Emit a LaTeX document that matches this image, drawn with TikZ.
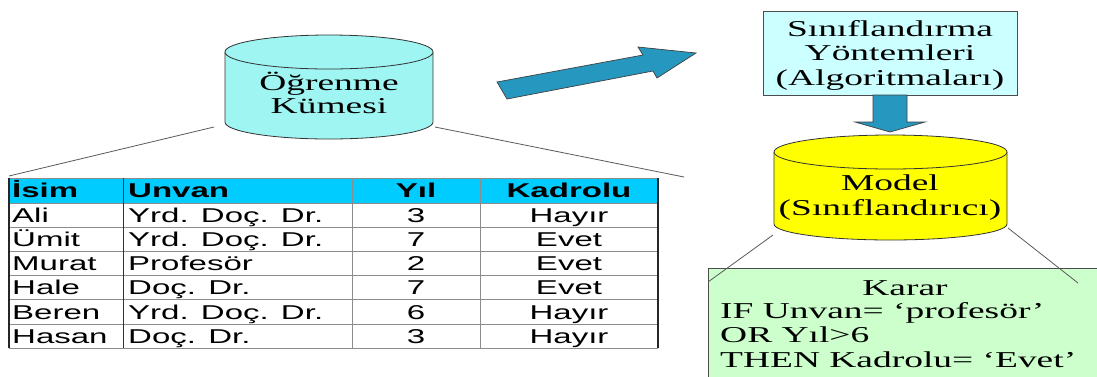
\documentclass[tikz,border=0pt]{standalone}
\usepackage{fontspec}
\newfontfamily\tnr{Liberation Serif}[FakeStretch=1.65]
\newfontfamily\arl{Liberation Sans}[FakeStretch=1.65]
\definecolor{arrowblue}{RGB}{38,151,190}
\definecolor{cylcyan}{RGB}{158,245,242}
\definecolor{boxcyan}{RGB}{204,255,255}
\definecolor{karargreen}{RGB}{204,255,204}
\definecolor{headcyan}{RGB}{0,204,255}
\definecolor{cylyellow}{RGB}{255,255,0}
\tikzset{
  ser/.style={font=\tnr\fontsize{22.7}{24.5}\selectfont, inner sep=0pt, anchor=base},
  cell/.style={font=\arl\fontsize{20}{24}\selectfont, inner sep=0pt, anchor=base},
  hcell/.style={cell, font=\arl\bfseries\fontsize{20}{24}\selectfont},
  outline/.style={draw=black!80, line width=0.8pt},
  conn/.style={draw=black!65, line width=0.8pt},
  blockarrow/.style={fill=arrowblue, draw=black!75, line width=0.7pt, line join=miter},
  rowline/.style={draw=black!45, line width=0.8pt},
  border/.style={draw=black!85, line width=1.4pt}
}
\begin{document}
\begin{tikzpicture}[x=1pt,y=-1pt]
\useasboundingbox (0,0) rectangle (1097,376);

% ---------- Learning set cylinder ----------
\fill[cylcyan] (225,52) rectangle (433,122);
\fill[cylcyan] (329,122) ellipse [x radius=104pt, y radius=17pt];
\draw[outline] (225,52) -- (225,122) arc[start angle=180, end angle=360, x radius=104pt, y radius=17pt] -- (433,52);
\draw[outline, fill=cylcyan] (329,52) ellipse [x radius=104pt, y radius=17pt];
\node[ser] (learn1) at (329,90) {Öğrenme};
\node[ser] (learn2) at (329,113) {Kümesi};
\coordinate (learnL) at (214,127);
\coordinate (learnR) at (435,127);

% ---------- Table ----------
\fill[headcyan] (9,178) rectangle (658,203);
\foreach \y in {178,203,227.2,251.4,275.6,299.8,324,348}
  \draw[rowline] (9,\y) -- (658,\y);
\draw[rowline] (352,178) -- (352,348);
\draw[rowline] (480,178) -- (480,348);
\draw[draw=black!80, line width=1pt] (123,178) -- (123,348);
\draw[border] (9,178) -- (9,348);
\draw[border, line width=2pt] (658,178) -- (658,348);
\coordinate (tabL) at (9,176);
\coordinate (tabR) at (684,177);

\node[hcell, anchor=base west] (h1) at (12,197.5) {İsim};
\node[hcell, anchor=base west] (h2) at (128,197.5) {Unvan};
\node[hcell] (h3) at (416,197.5) {Yıl};
\node[hcell] (h4) at (569,197.5) {Kadrolu};

\foreach \n/\u/\yl/\k [count=\i from 0] in {Ali/{Yrd. Doç. Dr.}/3/Hayır, Ümit/{Yrd. Doç. Dr.}/7/Evet, Murat/Profesör/2/Evet, Hale/{Doç. Dr.}/7/Evet, Beren/{Yrd. Doç. Dr.}/6/Hayır, Hasan/{Doç. Dr.}/3/Hayır}{
  \pgfmathsetmacro{\yy}{222.3+24.2*\i}
  \node[cell, anchor=base west] (c\i a) at (12,\yy) {\n};
  \node[cell, anchor=base west] (c\i b) at (128,\yy) {\u};
  \node[cell] (c\i c) at (416,\yy) {\yl};
  \node[cell] (c\i d) at (569,\yy) {\k};
}

\draw[conn] (learnL) -- (tabL);
\draw[conn] (learnR) -- (tabR);

% ---------- Big arrow ----------
\draw[blockarrow] (497,82) -- (643,55) -- (638,47) -- (696,53) -- (657,78) -- (653,71) -- (507,99) -- cycle;

% ---------- Methods box ----------
\node[draw=black!70, line width=0.8pt, fill=boxcyan, minimum width=254pt, minimum height=84pt, inner sep=0pt] (methods) at (890,53) {};
\node[ser] (m1) at (890,36) {Sınıflandırma};
\node[ser] (m2) at (890,60.5) {Yöntemleri};
\node[ser] (m3) at (890,85) {(Algoritmaları)};

% ---------- Down arrow ----------
\draw[blockarrow] (873,95) -- (873,122) -- (855,122) -- (890,132) -- (925,122) -- (907,122) -- (907,95) -- cycle;

% ---------- Model cylinder ----------
\fill[cylyellow] (774,152) rectangle (1007,224);
\fill[cylyellow] (890.5,224) ellipse [x radius=116.5pt, y radius=16pt];
\draw[outline] (774,152) -- (774,224) arc[start angle=180, end angle=360, x radius=116.5pt, y radius=16pt] -- (1007,152);
\draw[outline, fill=cylyellow] (890.5,152) ellipse [x radius=116.5pt, y radius=17pt];
\node[ser] (mod1) at (890,190.5) {Model};
\node[ser] (mod2) at (890,215) {(Sınıflandırıcı)};
\coordinate (modL) at (773,235);
\coordinate (modR) at (1008,228);

% ---------- Decision box ----------
\draw[draw=black!70, line width=0.8pt, fill=karargreen] (708,268) rectangle (1100,380);
\node[ser] (k0) at (905,295) {Karar};
\node[ser, anchor=base west] (k1) at (720,318) {IF Unvan= ‘profesör’};
\node[ser, anchor=base west] (k2) at (720,342.5) {OR Yıl>6};
\node[ser, anchor=base west] (k3) at (720,367) {THEN Kadrolu= ‘Evet’};
\coordinate (kararL) at (708,282);
\coordinate (kararR) at (1078,283);

\draw[conn] (modL) -- (kararL);
\draw[conn] (modR) -- (kararR);
\end{tikzpicture}
\end{document}
